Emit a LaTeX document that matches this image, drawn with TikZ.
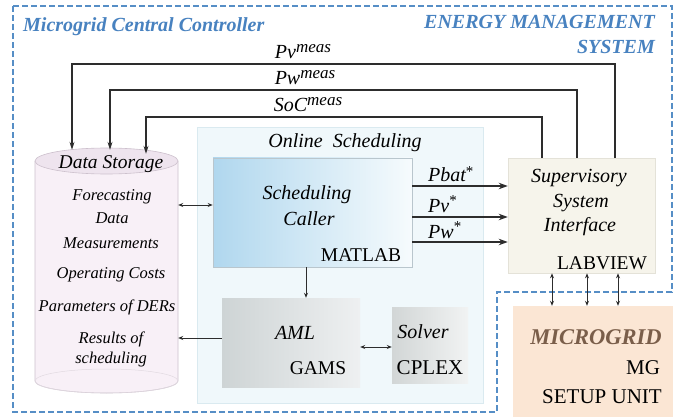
\documentclass[tikz,border=0pt]{standalone}
\usepackage{fontspec}
\setmainfont{Liberation Serif}
\usetikzlibrary{arrows.meta}
\definecolor{dashblue}{RGB}{86,142,198}
\definecolor{titleblue}{RGB}{72,130,192}
\definecolor{linegray}{RGB}{45,45,45}
\definecolor{osfill}{RGB}{240,248,251}
\definecolor{osedge}{RGB}{218,234,240}
\definecolor{scleft}{RGB}{176,215,238}
\definecolor{scright}{RGB}{246,251,253}
\definecolor{scedge}{RGB}{185,198,205}
\definecolor{supfill}{RGB}{246,244,235}
\definecolor{supedge}{RGB}{228,226,216}
\definecolor{amlleft}{RGB}{206,212,213}
\definecolor{amlright}{RGB}{238,240,241}
\definecolor{solleft}{RGB}{210,214,214}
\definecolor{solright}{RGB}{241,243,243}
\definecolor{mgfill}{RGB}{251,230,212}
\definecolor{mgtext}{RGB}{122,94,74}
\definecolor{cylfill}{RGB}{248,240,247}
\definecolor{cyltop}{RGB}{238,228,238}
\definecolor{cyledge}{RGB}{205,193,205}
\newcommand{\myfs}[1]{\fontsize{#1}{#1}\selectfont}
\begin{document}
\begin{tikzpicture}[x=1pt,y=-1pt,
  box/.style={rectangle, inner sep=0pt},
  it/.style={inner sep=0pt, font={\myfs{20}\itshape}},
  itsm/.style={inner sep=0pt, font={\myfs{16.5}\itshape}},
  up/.style={inner sep=0pt, font={\myfs{19.5}}},
  ttl/.style={inner sep=0pt, font={\myfs{20}\bfseries\itshape}, text=titleblue},
  conn/.style={draw=linegray, line width=1.1pt},
  bigarr/.style={conn, -{Stealth[length=9pt,width=6.5pt]}},
  smarr/.style={draw=linegray, line width=0.8pt, -{Stealth[length=5pt,width=4pt]}},
  dblarr/.style={draw=linegray, line width=0.8pt, {Stealth[length=5pt,width=4pt]}-{Stealth[length=5pt,width=4pt]}},
  lbl/.style={inner sep=0pt, font={\myfs{20}\itshape}, anchor=base}
]
\useasboundingbox (0,0) rectangle (678,417);
\fill[white] (0,0) rectangle (678,417);

% outer dashed border
\draw[dashblue, line width=2.5pt, dash pattern=on 6pt off 3pt]
  (13,6) -- (672,6) -- (672,292) -- (497,292) -- (497,412) -- (13,412) -- cycle;

% titles
\node[ttl, anchor=west] (t1) at (23,27) {Microgrid Central Controller};
\node[ttl, anchor=east] (t2) at (655,22) {ENERGY MANAGEMENT};
\node[ttl, anchor=east] (t3) at (655,47) {SYSTEM};

% online scheduling container
\node[box, fill=osfill, draw=osedge, line width=0.8pt, minimum width=286pt, minimum height=276pt] (os) at (340,265) {};
\node[it] (oslbl) at (345,143) {Online\hspace{0.5em}Scheduling};

% data storage cylinder
\fill[cylfill] (35,161) -- (35,381) arc[start angle=180, end angle=0, x radius=71.5, y radius=12]
  -- (178,161) arc[start angle=0, end angle=-180, x radius=71.5, y radius=13] -- cycle;
\draw[cyledge, line width=0.6pt] (35,161) -- (35,381) arc[start angle=180, end angle=0, x radius=71.5, y radius=12] -- (178,161);
\draw[cyledge!60, line width=0.5pt] (106.5,381) ellipse[x radius=71.5, y radius=12];
\filldraw[fill=cyltop, draw=cyledge, line width=0.6pt] (106.5,161) ellipse[x radius=71.5, y radius=13];
\node[box, minimum width=143pt, minimum height=245pt] (ds) at (106.5,270.5) {};
\node[inner sep=0pt, font={\myfs{19.5}\itshape}] (dsl) at (111,164) {Data Storage};
\node[itsm] (d1) at (112,197) {Forecasting};
\node[itsm] (d2) at (112,218) {Data};
\node[itsm] (d3) at (111,243) {Measurements};
\node[itsm] (d4) at (111,275) {Operating Costs};
\node[itsm] (d5) at (107,307) {Parameters of DERs};
\node[itsm] (d6) at (111,339) {Results of};
\node[itsm] (d7) at (111,360) {scheduling};

% scheduling caller
\node[box, left color=scleft, right color=scright, draw=scedge, line width=0.6pt, minimum width=199pt, minimum height=109pt] (sc) at (312.5,212.5) {};
\node[it] (sc1) at (307,195) {Scheduling};
\node[it] (sc2) at (309,219) {Caller};
\node[up] (sc3) at (361,255) {MATLAB};

% AML
\node[box, left color=amlleft, right color=amlright, minimum width=138pt, minimum height=89pt] (aml) at (291,342.5) {};
\node[it] (aml1) at (295,333) {AML};
\node[up] (aml2) at (318,368) {GAMS};

% Solver
\node[box, left color=solleft, right color=solright, minimum width=76pt, minimum height=76pt] (sol) at (430,345) {};
\node[it] (sol1) at (423,332) {Solver};
\node[up, font={\myfs{21}}] (sol2) at (430,368) {CPLEX};

% supervisory
\node[box, fill=supfill, draw=supedge, line width=0.6pt, minimum width=147pt, minimum height=115pt] (sup) at (581.5,215.5) {};
\node[it] (su1) at (579,178) {Supervisory};
\node[it] (su2) at (581,203) {System};
\node[it] (su3) at (580,227) {Interface};
\node[up] (su4) at (602,263) {LABVIEW};

% microgrid
\node[box, fill=mgfill, minimum width=160pt, minimum height=112pt] (mg) at (593,362) {};
\node[inner sep=0pt, font={\myfs{22.5}\bfseries\itshape}, text=mgtext] (mg1) at (596,337) {MICROGRID};
\node[up, font={\myfs{21}}] (mg2) at (643,368) {MG};
\node[up, font={\myfs{21}}] (mg3) at (602,397) {SETUP UNIT};

% helper coordinates
\coordinate (xa) at (72,0);
\coordinate (xb) at (110,0);
\coordinate (xc) at (146,0);
\coordinate (xd) at (542,0);
\coordinate (xe) at (577,0);
\coordinate (xf) at (615,0);
\coordinate (xg) at (306,0);
\coordinate (xh) at (552,0);
\coordinate (xi) at (587,0);
\coordinate (xj) at (618,0);
\coordinate (ya) at (0,64);
\coordinate (yb) at (0,90);
\coordinate (yc) at (0,117);
\coordinate (yd) at (0,205);
\coordinate (ye) at (0,338);
\coordinate (yf) at (0,347);
\coordinate (yg) at (0,186);
\coordinate (yh) at (0,217);
\coordinate (yi) at (0,242);

% measurement feedback lines
\draw[conn, -{Stealth[length=8pt,width=5pt]}] (sup.north -| xf) -- (xf |- ya) -- (xa |- ya) -- ([yshift=-2pt]ds.north -| xa);
\draw[conn, -{Stealth[length=8pt,width=5pt]}] (sup.north -| xe) -- (xe |- yb) -- (xb |- yb) -- ([yshift=-2pt]ds.north -| xb);
\draw[conn, -{Stealth[length=8pt,width=5pt]}] (sup.north -| xd) -- (xd |- yc) -- (xc |- yc) -- ([yshift=-6pt]ds.north -| xc);
\node[lbl] (m1) at (303,59) {Pv\raisebox{6pt}{\myfs{17}meas}};
\node[lbl] (m2) at (305,85) {Pw\raisebox{6pt}{\myfs{17}meas}};
\node[lbl] (m3) at (308,112) {SoC\raisebox{6pt}{\myfs{17}meas}};

% data storage <-> scheduling caller
\draw[dblarr] (ds.east |- yd) -- (sc.west |- yd);
% caller -> AML
\draw[smarr] (sc.south -| xg) -- (aml.north -| xg);
% AML -> data storage
\draw[smarr] (aml.west |- ye) -- (ds.east |- ye);
% AML <-> solver
\draw[dblarr] (aml.east |- yf) -- (sol.west |- yf);

% set points
\draw[bigarr] (sc.east |- yg) -- (sup.west |- yg);
\draw[bigarr] (sc.east |- yh) -- (sup.west |- yh);
\draw[bigarr] (sc.east |- yi) -- (sup.west |- yi);
\node[lbl, anchor=base west] (p1) at (428,182) {Pbat\raisebox{5pt}{\myfs{15}\upshape *}};
\node[lbl, anchor=base west] (p2) at (428,212) {Pv\raisebox{6pt}{\myfs{15}\upshape *}};
\node[lbl, anchor=base west] (p3) at (428,238) {Pw\raisebox{6pt}{\myfs{15}\upshape *}};

% supervisory <-> microgrid
\draw[dblarr] (sup.south -| xh) -- (mg.north -| xh);
\draw[dblarr] (sup.south -| xi) -- (mg.north -| xi);
\draw[dblarr] (sup.south -| xj) -- (mg.north -| xj);
\end{tikzpicture}
\end{document}
